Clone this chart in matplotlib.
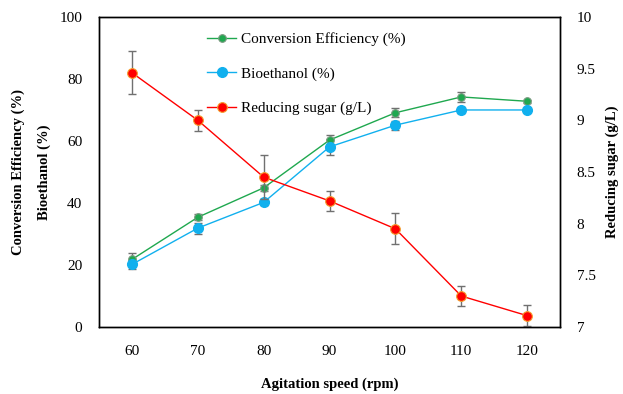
import numpy as np
import matplotlib
matplotlib.use("Agg")
import matplotlib.pyplot as plt

plt.rcParams['font.family'] = ['Liberation Serif', 'DejaVu Serif']

speed = [60, 70, 80, 90, 100, 110, 120]
conv_eff = [21.8, 35.4, 44.9, 60.3, 69.1, 74.2, 72.8]
conv_err = [2.0, 1.0, 1.0, 1.5, 1.5, 1.5, 0.5]
bioeth = [20.2, 31.9, 40.2, 58.1, 65.1, 70.0, 70.0]
bioeth_err = [1.5, 1.8, 1.0, 2.5, 1.5, 1.0, 0.5]
sugar = [9.46, 9.00, 8.45, 8.22, 7.95, 7.30, 7.11]
sugar_err = [0.21, 0.10, 0.21, 0.10, 0.15, 0.10, 0.10]

green = '#1fa84f'
blue = '#11b0ee'
red = '#ff0000'
ecol = '#707070'

fig = plt.figure(figsize=(6.23, 3.94), dpi=100)
ax = fig.add_axes([0.159, 0.170, 0.740, 0.787])
ax2 = ax.twinx()

ax.errorbar(speed, conv_eff, yerr=conv_err, fmt='none', ecolor=ecol, elinewidth=1, capsize=3, capthick=1, zorder=2)
ax.errorbar(speed, bioeth, yerr=bioeth_err, fmt='none', ecolor=ecol, elinewidth=1, capsize=3, capthick=1, zorder=2)
l1, = ax.plot(speed, conv_eff, color=green, lw=1, marker='o', ms=5.5, mfc=green, mec='#7a9a80', mew=0.8,
              label='Conversion Efficiency (%)', zorder=3)
l2, = ax.plot(speed, bioeth, color=blue, lw=1, marker='o', ms=7, mfc=blue, mec=blue,
              label='Bioethanol (%)', zorder=3)

ax2.errorbar(speed, sugar, yerr=sugar_err, fmt='none', ecolor=ecol, elinewidth=1, capsize=3, capthick=1, zorder=2)
l3, = ax2.plot(speed, sugar, color=red, lw=1, marker='o', ms=7, mfc=red, mec='#f5a030', mew=0.8,
               label='Reducing sugar (g/L)', zorder=3)

ax.set_xlim(55, 125)
ax.set_ylim(0, 100)
ax2.set_ylim(7, 10)
ax.set_xticks(speed)
ax.set_yticks(np.arange(0, 101, 20))
ax2.set_yticks([7, 7.5, 8, 8.5, 9, 9.5, 10])
ax2.set_yticklabels(['7', '7.5', '8', '8.5', '9', '9.5', '10'])

for a in (ax, ax2):
    a.tick_params(length=0, labelsize=11, pad=8)
    for s in a.spines.values():
        s.set_linewidth(1)
ax.tick_params(axis='y', pad=12)
ax2.tick_params(axis='y', pad=12)
ax.tick_params(axis='x', pad=13)

ax.set_xlabel('Agitation speed (rpm)', fontsize=10.5, fontweight='bold', labelpad=14)
ax.set_ylabel('Conversion Efficiency (%)\n\nBioethanol (%)', fontsize=10.5, fontweight='bold',
              labelpad=6, linespacing=1.0)
ax2.set_ylabel('Reducing sugar (g/L)', fontsize=10.5, fontweight='bold', labelpad=7)

leg = ax2.legend(handles=[l1, l2, l3], loc='upper left', bbox_to_anchor=(0.205, 0.995),
                 frameon=False, fontsize=11, labelspacing=1.35, handlelength=1.9,
                 handletextpad=0.3)

plt.savefig('out.png', dpi=100)
